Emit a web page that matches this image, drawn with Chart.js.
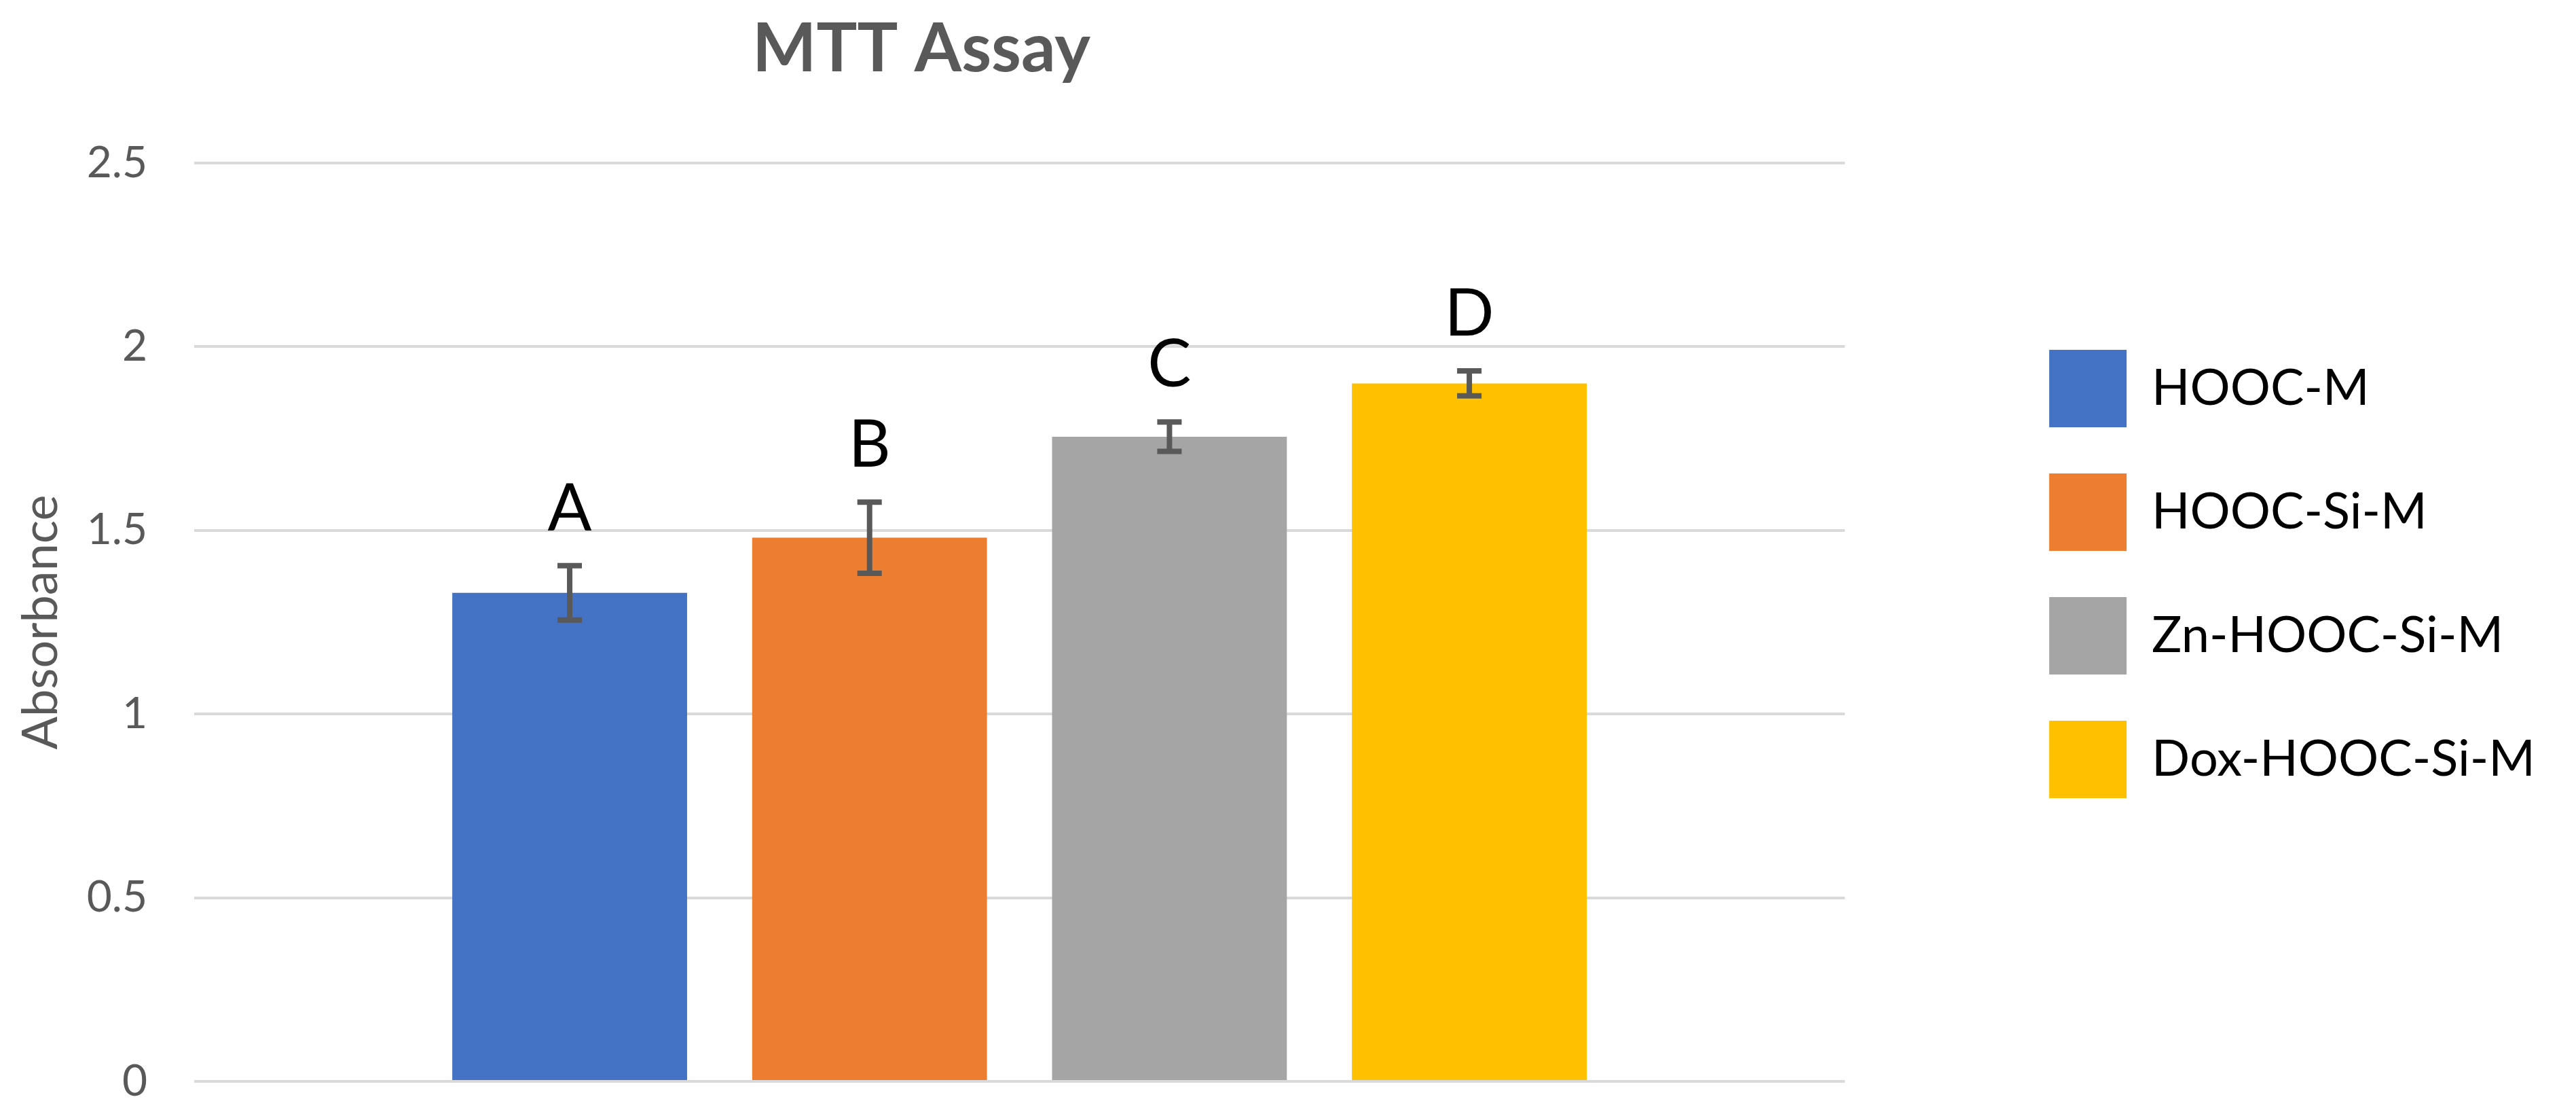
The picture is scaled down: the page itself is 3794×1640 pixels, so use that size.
<!DOCTYPE html>
<html>
<head>
<meta charset="utf-8">
<title>MTT Assay</title>
<script src="https://cdn.jsdelivr.net/npm/chart.js@4.4.1/dist/chart.umd.min.js"></script>
<style>
  html, body { margin: 0; padding: 0; background: #ffffff; }
  canvas { display: block; }
</style>
</head>
<body>
<canvas id="mttChart" width="3794" height="1640"></canvas>
<script>
// Data
const seriesNames = ['HOOC-M', 'HOOC-Si-M', 'Zn-HOOC-Si-M', 'Dox-HOOC-Si-M'];
const absorbance = [1.33, 1.48, 1.755, 1.90];
const errors = [0.074, 0.097, 0.04, 0.034];
const groupLetters = ['A', 'B', 'C', 'D'];
const categories = [''];
const yMin = 0, yMax = 2.5, yStep = 0.5;

const barColors = ['#4472C4', '#ED7D31', '#A5A5A5', '#FFC000'];
const axisGrey = '#595959';
const FONT = 'Lato, Carlito, "Open Sans", sans-serif';

// Error bars + significance letters, drawn from the y scale
const errorBarPlugin = {
  id: 'errorBarPlugin',
  afterDatasetsDraw(chart) {
    const { ctx, scales: { y } } = chart;
    ctx.save();
    chart.data.datasets.forEach((ds, i) => {
      const bar = chart.getDatasetMeta(i).data[0];
      if (!bar) return;
      const top = y.getPixelForValue(absorbance[i] + errors[i]);
      const bot = y.getPixelForValue(absorbance[i] - errors[i]);
      ctx.strokeStyle = axisGrey;
      ctx.lineWidth = 8;
      ctx.beginPath();
      ctx.moveTo(bar.x, top);
      ctx.lineTo(bar.x, bot);
      ctx.moveTo(bar.x - 18, top);
      ctx.lineTo(bar.x + 18, top);
      ctx.moveTo(bar.x - 18, bot);
      ctx.lineTo(bar.x + 18, bot);
      ctx.stroke();

      ctx.fillStyle = '#000000';
      ctx.font = '96px ' + FONT;
      ctx.textAlign = 'center';
      ctx.textBaseline = 'alphabetic';
      ctx.fillText(groupLetters[i], bar.x, top - 52);
    });
    ctx.restore();
  }
};

// Chart title, placed where the original has it (left of centre)
const titlePlugin = {
  id: 'titlePlugin',
  afterDraw(chart) {
    const { ctx } = chart;
    ctx.save();
    ctx.fillStyle = axisGrey;
    ctx.font = 'bold 100px ' + FONT;
    ctx.textAlign = 'center';
    ctx.textBaseline = 'alphabetic';
    ctx.fillText('MTT Assay', 1357, 105);
    ctx.restore();
  }
};

const ctx = document.getElementById('mttChart').getContext('2d');
const chart = new Chart(ctx, {
  type: 'bar',
  data: {
    labels: categories,
    datasets: seriesNames.map((name, i) => ({
      label: name,
      data: [absorbance[i]],
      backgroundColor: barColors[i],
      borderWidth: 0,
      categoryPercentage: 0.7267,
      barPercentage: 0.783
    }))
  },
  options: {
    responsive: false,
    animation: false,
    layout: { padding: { top: 240, bottom: 48, left: 0, right: 50 } },
    plugins: {
      tooltip: { enabled: false },
      title: { display: false },
      legend: {
        position: 'right',
        align: 'start',
        fullSize: false,
        title: { display: true, text: '', font: { size: 10 }, padding: { top: 195, bottom: 0 } },
        labels: {
          boxWidth: 114,
          boxHeight: 114,
          padding: 68,
          color: '#000000',
          font: { family: FONT, size: 74 }
        }
      }
    },
    scales: {
      x: {
        display: false,
        grid: { display: false }
      },
      y: {
        min: yMin,
        max: yMax,
        afterFit(scale) { scale.width = 286; },
        ticks: {
          stepSize: yStep,
          padding: 0,
          color: axisGrey,
          font: { family: FONT, size: 64 },
          callback: (v) => String(+v.toFixed(2))
        },
        grid: { color: '#D9D9D9', lineWidth: 4, drawTicks: true, tickLength: 69, tickColor: 'rgba(0,0,0,0)' },
        border: { display: false },
        title: {
          display: true,
          text: 'Absorbance',
          color: axisGrey,
          font: { family: FONT, size: 72 },
          padding: { top: 18, bottom: 0 }
        }
      },
      // empty spacer between the plot and the legend
      gap: {
        type: 'linear',
        position: 'right',
        display: false,
        afterFit(scale) { scale.width = 233; }
      }
    }
  },
  plugins: [errorBarPlugin, titlePlugin]
});
</script>
</body>
</html>
